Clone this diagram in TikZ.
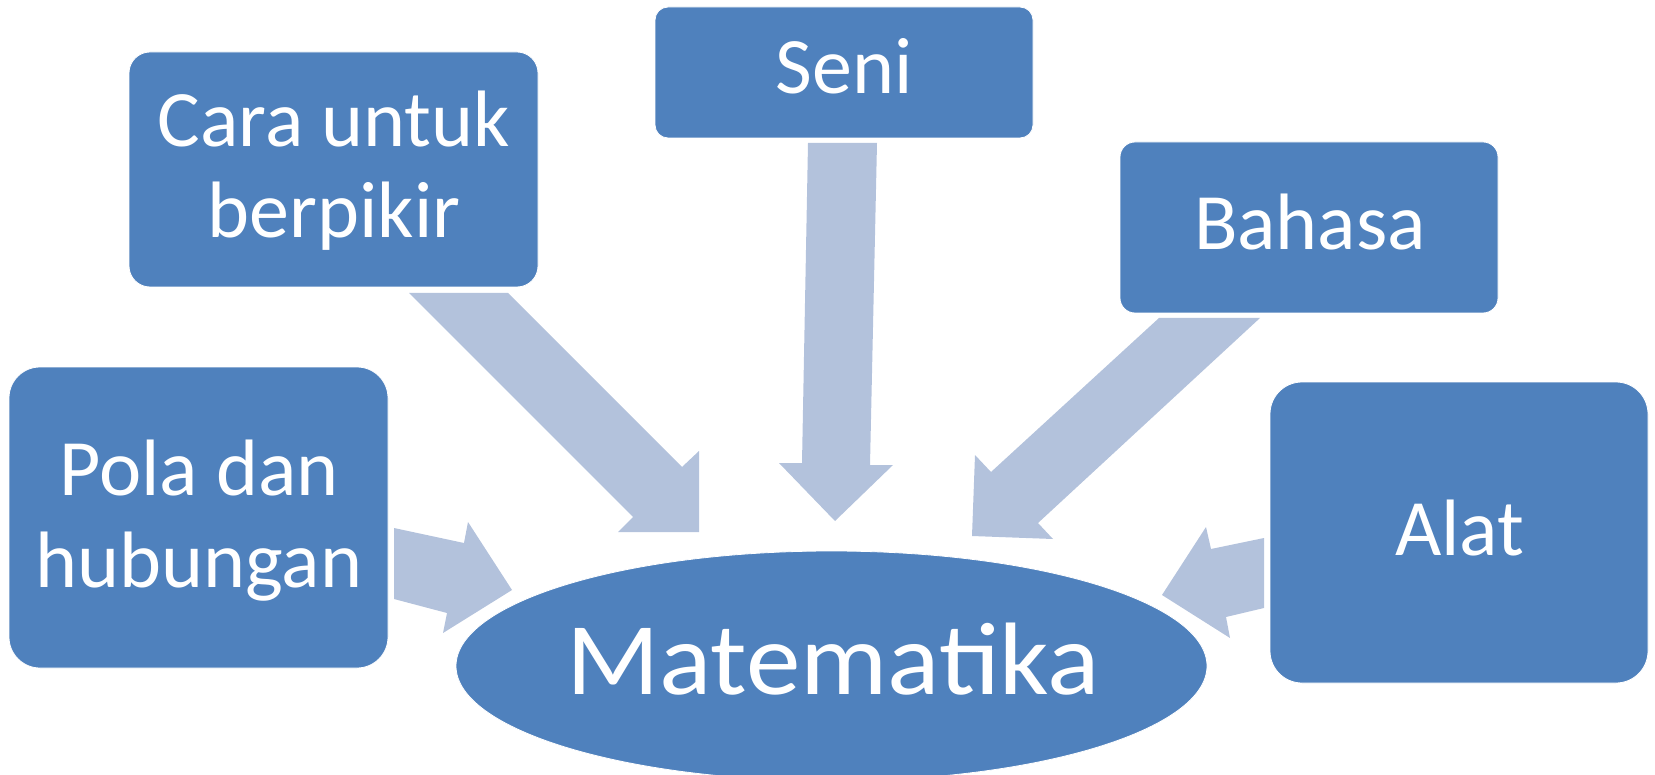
\documentclass[tikz,border=0pt]{standalone}
\usepackage{fontspec}
\setmainfont{Carlito}
\usetikzlibrary{shapes.geometric}
\definecolor{boxblue}{HTML}{4F81BD}
\definecolor{arrowblue}{HTML}{B3C2DC}
\tikzset{
  box/.style={fill=boxblue, draw=white, line width=0.4pt, inner sep=0pt},
  label/.style={text=white, font=\fontsize{40}{46}\selectfont, inner sep=0pt, align=center},
  biglabel/.style={text=white, font=\fontsize{51.5}{58}\selectfont, inner sep=0pt},
  blockarrow/.style={fill=arrowblue, draw=none}
}
\begin{document}
\begin{tikzpicture}[x=0.5pt, y=-0.5pt]
\useasboundingbox (0,0) rectangle (1655,775);
% boxes
\node[box, rounded corners=10.5pt, minimum width=204.5pt, minimum height=117.5pt] (cara) at (333.5,169.5) {};
\node[box, rounded corners=6.5pt, minimum width=189pt, minimum height=65.5pt] (seni) at (844,72.5) {};
\node[box, rounded corners=7.5pt, minimum width=189pt, minimum height=85.5pt] (bahasa) at (1309,227.5) {};
\node[box, rounded corners=15.5pt, minimum width=189.5pt, minimum height=150.5pt] (pola) at (198.5,517.5) {};
\node[box, rounded corners=16pt, minimum width=189pt, minimum height=150.5pt] (alat) at (1459,532.5) {};
% block arrows
\fill[blockarrow] (409,293) -- (508,293) -- (682,467) -- (699,451) -- (699,532) -- (618,532) -- (633,517) -- cycle;
\fill[blockarrow] (808,143) -- (877,143) -- (870,465) -- (893,465) -- (835,521) -- (779,463) -- (802,463) -- cycle;
\fill[blockarrow] (1159,318) -- (1260,318) -- (1038,523) -- (1053,539) -- (972,536) -- (975,455) -- (991,472) -- cycle;
\fill[blockarrow] (394,528) -- (464,543) -- (468,522) -- (512,590) -- (443,633) -- (447,613) -- (394,599) -- cycle;
\fill[blockarrow] (1264,538) -- (1211,549) -- (1206,527) -- (1162,595) -- (1230,638) -- (1226,617) -- (1264,608) -- cycle;
% central ellipse
\node[box, ellipse, minimum width=375.5pt, minimum height=115pt] (mat) at (831.5,666) {};
% texts
\node[label, anchor=base] (caraA) at (334,147) {Cara untuk};
\node[label, anchor=base] (caraB) at (334,238) {berpikir};
\node[label, anchor=base] (seniT) at (844,94) {Seni};
\node[label, anchor=base] (bahasaT) at (1310,250) {Bahasa};
\node[label, anchor=base] (polaA) at (199,495) {Pola dan};
\node[label, anchor=base] (polaB) at (199,587) {hubungan};
\node[label, anchor=base] (alatT) at (1459.5,555) {Alat};
\node[biglabel, anchor=base] (matT) at (833,694) {\scalebox{1.06}[1]{Matematika}};
\end{tikzpicture}
\end{document}
